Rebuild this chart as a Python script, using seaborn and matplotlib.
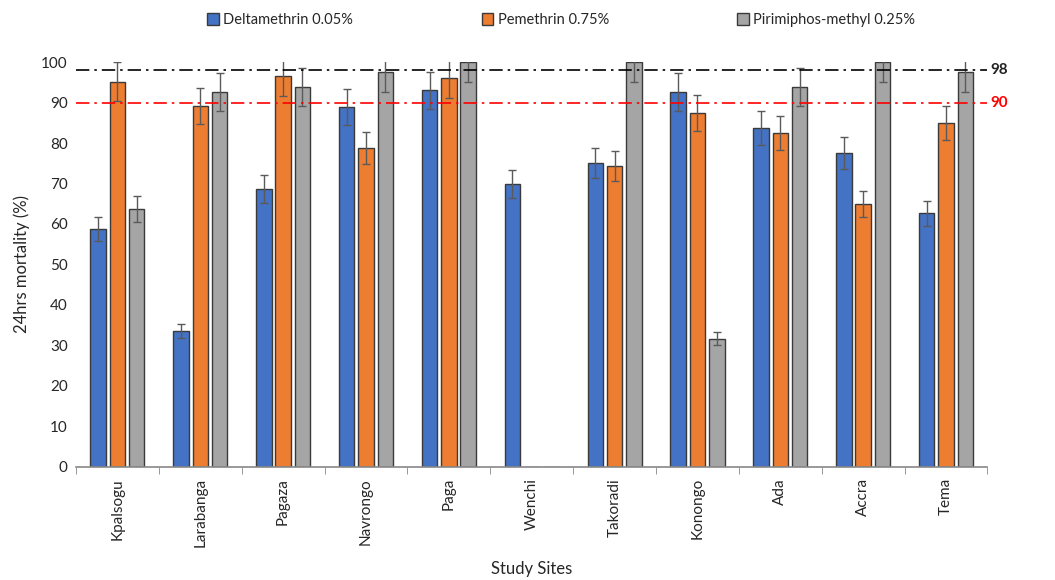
import numpy as np
import pandas as pd
import matplotlib.pyplot as plt
import seaborn as sns
from matplotlib.ticker import FixedLocator

sns.set_style("white")
plt.rcParams['font.family'] = ['Lato', 'DejaVu Sans']

# data
sites = ['Kpalsogu', 'Larabanga', 'Pagaza', 'Navrongo', 'Paga', 'Wenchi',
         'Takoradi', 'Konongo', 'Ada', 'Accra', 'Tema']
insecticides = ['Deltamethrin 0.05%', 'Pemethrin 0.75%', 'Pirimiphos-methyl 0.25%']
deltamethrin = [58.8, 33.6, 68.6, 88.9, 93.0, 69.9, 75.0, 92.6, 83.7, 77.5, 62.7]
permethrin = [95.1, 89.1, 96.5, 78.8, 96.0, 0, 74.3, 87.4, 82.5, 64.9, 84.9]
pirimiphos = [63.7, 92.6, 93.8, 97.5, 100, 0, 100, 31.6, 93.8, 100, 97.5]
delta_err = [2.9, 1.7, 3.4, 4.4, 4.6, 3.5, 3.7, 4.6, 4.2, 3.9, 3.1]
perm_err = [4.8, 4.4, 4.8, 3.9, 4.8, 0, 3.7, 4.4, 4.1, 3.2, 4.2]
piri_err = [3.2, 4.6, 4.7, 4.9, 5.0, 0, 5.0, 1.6, 4.7, 5.0, 4.9]
who_cutoff = 98
suspected = 90

colors = ['#4472C4', '#ED7D31', '#A5A5A5']

df = pd.DataFrame({
    'site': sites * 3,
    'insecticide': np.repeat(insecticides, len(sites)),
    'mortality': deltamethrin + permethrin + pirimiphos,
})
errs = [delta_err, perm_err, piri_err]

fig = plt.figure(figsize=(10.55, 5.8), dpi=100)
ax = fig.add_axes([0.072, 0.195, 0.864, 0.698])

sns.barplot(data=df, x='site', y='mortality', hue='insecticide',
            palette=colors, saturation=1, width=0.7, gap=0.2, errorbar=None,
            edgecolor='#3a3a3a', linewidth=1.0, ax=ax)

# error bars on top of each bar
for cont, err in zip(ax.containers, errs):
    xs = np.array([p.get_x() + p.get_width() / 2 for p in cont.patches])
    ys = np.array([p.get_height() for p in cont.patches])
    e = np.array(err)
    m = ys > 0
    ax.errorbar(xs[m], ys[m], yerr=e[m], fmt='none',
                ecolor='#5a5a5a', elinewidth=1.0, capsize=3, capthick=1.0)

ax.axhline(who_cutoff, color='black', ls=(0, (8, 3, 1.5, 3)), lw=1.2, zorder=5, clip_on=False)
ax.axhline(suspected, color='red', ls=(0, (8, 3, 1.5, 3)), lw=1.2, zorder=5, clip_on=False)
ax.text(1.003, who_cutoff, '98', transform=ax.get_yaxis_transform(),
        va='center', ha='left', fontsize=11, fontweight='bold', color='#222222')
ax.text(1.003, suspected, '90', transform=ax.get_yaxis_transform(),
        va='center', ha='left', fontsize=11, fontweight='bold', color='red')

ax.set_xlim(-0.5, len(sites) - 0.5)
ax.set_ylim(0, 100)
ax.set_yticks(range(0, 101, 10))
ax.tick_params(axis='y', labelsize=11, length=0, pad=6)
ax.tick_params(axis='x', which='major', labelsize=11, length=0, rotation=90, pad=8)
ax.xaxis.set_minor_locator(FixedLocator(np.arange(-0.5, len(sites), 1)))
ax.tick_params(axis='x', which='minor', length=5, color='#888888', direction='out', bottom=True)

for s in ['top', 'right', 'left']:
    ax.spines[s].set_visible(False)
ax.spines['bottom'].set_color('#888888')
ax.spines['bottom'].set_linewidth(1.2)

ax.set_xlabel('Study Sites', fontsize=12, labelpad=10)
ax.set_ylabel('24hrs mortality (%)', fontsize=12, labelpad=8)

h, l = ax.get_legend_handles_labels()
ax.legend(h, l, loc='upper center', bbox_to_anchor=(0.532, 1.0),
          bbox_transform=fig.transFigure, ncol=3, frameon=False, fontsize=10.5,
          handlelength=0.8, handleheight=0.8, handletextpad=0.3, columnspacing=8.8)

plt.savefig('out.png', dpi=100)
